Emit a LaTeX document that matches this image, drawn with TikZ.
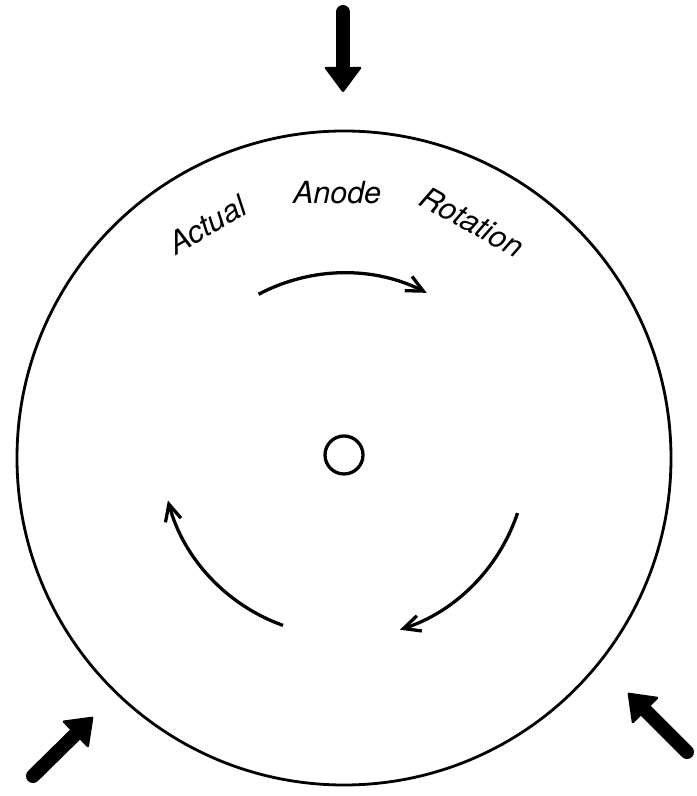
\documentclass[tikz,border=0pt]{standalone}
\usepackage{fontspec}
\usepackage{xcolor}
\usepackage{tikz}
\usetikzlibrary{arrows.meta}
\newfontfamily\labelfont{TeX Gyre Heros}
\definecolor{cInk}{HTML}{000000}
\tikzset{
  disc/.style={draw=cInk,circle,line width=2.4pt,minimum size=654*0.03cm,inner sep=0pt},
  hub/.style={draw=cInk,circle,line width=2.8pt,minimum size=38*0.03cm,inner sep=0pt},
  rotarr/.style={-{Straight Barb[length=0.5cm,width=0.48cm,line width=2.8pt]},line width=2.8pt,color=cInk},
  pusharr/.style={-{Triangle[round,line width=2pt,length=0.78cm,width=1.15cm]},line width=12pt,line cap=round,color=cInk},
  lbl/.style={font=\labelfont\itshape\fontsize{26}{30}\selectfont,text=cInk,inner sep=0pt},
}

\begin{document}
\begin{tikzpicture}[x=0.03cm,y=0.03cm]
  \useasboundingbox (-344,-341) rectangle (352,455);
  \node[disc] (plate) at (0,-3) {};
  \node[hub]  (hub)   at (0,0)  {};
  % words round the top of the disc
  \node[lbl,rotate=30]  (wActual) at (120.7:268) {Actual};
  \node[lbl]            (wAnode)  at (91.5:262)  {Anode};
  \node[lbl,rotate=-29] (wRot)    at (61.2:266)  {Rotation};
  % turning direction, clockwise
  \draw[rotarr] ([shift={(118:182)}]hub.center)  arc[start angle=118,end angle=63,radius=182];
  \draw[rotarr] ([shift={(-18.5:183)}]hub.center) arc[start angle=-18.5,end angle=-72,radius=184];
  \draw[rotarr] ([shift={(250.3:181)}]hub.center) arc[start angle=250.3,end angle=195,radius=183];
  % loads pressing on the rim
  \coordinate (tTop)  at (-1,443);
  \coordinate (hTop)  at (-1,363);
  \coordinate (tLeft) at (-311,-321);
  \coordinate (hLeft) at (-251,-262);
  \coordinate (tRight) at (343,-297);
  \coordinate (hRight) at (284,-238);
  \draw[pusharr] (tTop) -- (hTop);
  \draw[pusharr] (tLeft) -- (hLeft);
  \draw[pusharr] (tRight) -- (hRight);
\end{tikzpicture}
\end{document}
